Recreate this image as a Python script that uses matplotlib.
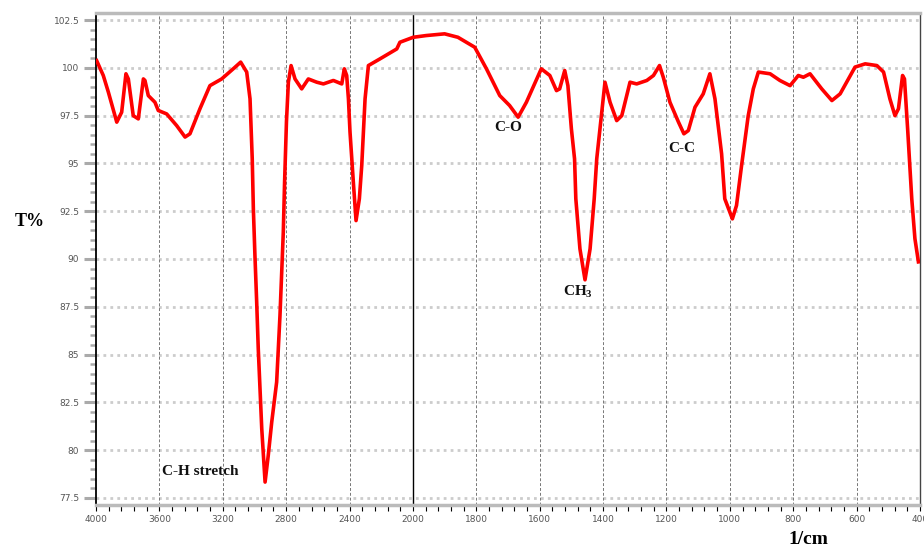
import numpy as np
import matplotlib
matplotlib.use("Agg")
import matplotlib.pyplot as plt

# FTIR spectrum, values
wn = [3996, 3954, 3922, 3869, 3838, 3811, 3796, 3765, 3733, 3701, 3691, 3670,
      3628, 3607, 3554, 3491, 3438, 3407, 3344, 3281, 3207, 3134, 3087, 3049,
      3028, 3014, 3007, 2997, 2986, 2976, 2965, 2954, 2933, 2913, 2891, 2860,
      2839, 2818, 2810, 2798, 2786, 2769, 2744, 2702, 2660, 2607, 2565, 2502,
      2449, 2433, 2418, 2407, 2397, 2376, 2359, 2338, 2323, 2302, 2281, 2208,
      2102, 2082, 1999, 1958, 1900, 1858, 1805, 1768, 1726, 1695, 1668, 1642,
      1595, 1568, 1547, 1537, 1521, 1511, 1500, 1490, 1486, 1473, 1457, 1441,
      1428, 1420, 1394, 1378, 1357, 1341, 1315, 1294, 1262, 1241, 1222, 1210,
      1189, 1162, 1145, 1131, 1110, 1084, 1063, 1047, 1026, 1016, 992, 979,
      963, 942, 926, 910, 873, 842, 810, 784, 768, 747, 710, 678, 652, 605,
      573, 536, 515, 495, 479, 468, 455, 449, 439, 426, 416, 405]
tr = [100.38, 99.6, 98.73, 97.16, 97.68, 99.69, 99.42, 97.5, 97.33, 99.42, 99.34, 98.55,
      98.2, 97.77, 97.59, 96.98, 96.38, 96.55, 97.86, 99.07, 99.42, 99.95, 100.3, 99.78,
      98.38, 95.24, 92.63, 90.18, 87.75, 85.3, 83.2, 81.12, 78.33, 79.72, 81.47, 83.56,
      87.04, 91.41, 94.0, 97.2, 99.25, 100.12, 99.42, 98.9, 99.42, 99.25, 99.16, 99.34,
      99.16, 99.95, 99.6, 98.38, 96.64, 94.02, 92.01, 93.15, 94.89, 98.38, 100.12, 100.47,
      100.99, 101.34, 101.6, 101.69, 101.78, 101.6, 101.08, 99.95, 98.55, 98.03, 97.42, 98.2,
      99.95, 99.6, 98.81, 98.9, 99.86, 99.07, 96.81, 95.24, 93.15, 90.53, 88.91, 90.53,
      93.15, 95.24, 99.25, 98.2, 97.24, 97.5, 99.25, 99.16, 99.34, 99.6, 100.12, 99.51,
      98.2, 97.16, 96.55, 96.72, 97.94, 98.64, 99.69, 98.38, 95.5, 93.15, 92.1, 92.8,
      94.89, 97.5, 98.9, 99.78, 99.69, 99.34, 99.07, 99.6, 99.51, 99.69, 98.9, 98.29, 98.64, 100.04,
      100.21, 100.12, 99.78, 98.38, 97.5, 97.86, 99.6, 99.42, 96.8, 93.15, 91.06, 89.85]

xticks = [4000, 3600, 3200, 2800, 2400, 2000, 1800, 1600, 1400, 1200, 1000, 800, 600, 400]
yticks = [77.5, 80, 82.5, 85, 87.5, 90, 92.5, 95, 97.5, 100, 102.5]
ylabels = ["77.5", "80", "82.5", "85", "87.5", "90", "92.5", "95", "97.5", "100", "102.5"]

labels = ["C-H stretch", "C-O", "CH$_3$", "C-C"]
label_x = [3344, 1700, 1479, 1151]
label_y = [78.9, 96.9, 88.3, 95.8]


# scale is halved above 2000 1/cm
def fwd(x):
    x = np.asarray(x, dtype=float)
    return np.where(x > 2000, 2000 + (x - 2000) / 2, x)


def inv(t):
    t = np.asarray(t, dtype=float)
    return np.where(t > 2000, 2000 + 2 * (t - 2000), t)


plt.rcParams['mathtext.fontset'] = 'custom'
plt.rcParams['mathtext.rm'] = 'Liberation Serif:bold'
plt.rcParams['mathtext.it'] = 'Liberation Serif:bold'

fig = plt.figure(figsize=(9.24, 5.54), dpi=100)
ax = fig.add_axes([96 / 924, 49 / 554, 824 / 924, 492 / 554])
ax.set_xscale('function', functions=(fwd, inv))

ax.plot(wn, tr, color='#ff0000', lw=2.6, zorder=5)

ax.set_xlim(4000, 400)
ax.set_ylim(77.13, 102.87)

# grid
for y in yticks:
    ax.axhline(y, color='#cccccc', lw=2, ls=(0, (1, 1.5)), zorder=1)
for x in xticks[1:-1]:
    if x == 2000:
        ax.axvline(x, color='black', lw=1, zorder=2)
    else:
        ax.axvline(x, color='#777777', lw=0.7, ls=(0, (3, 2)), zorder=2)

ax.set_xticks(xticks)
ax.set_xticklabels([str(x) for x in xticks])
minor_x = list(np.arange(4000, 2000, -80)) + list(np.arange(2000, 400, -40))
ax.set_xticks(minor_x, minor=True)
ax.set_yticks(yticks)
ax.set_yticklabels(ylabels)
ax.set_yticks(np.arange(77.5, 102.6, 0.5), minor=True)

ax.tick_params(axis='x', which='both', direction='out', length=4, width=0.8,
               color='black', labelsize=6.5, labelcolor='#555555', pad=3)
ax.tick_params(axis='y', which='major', direction='out', length=9, width=2.2,
               color='#aaaaaa', labelsize=6.5, labelcolor='#555555', pad=3)
ax.tick_params(axis='y', which='minor', direction='out', length=4, width=1.8,
               color='#aaaaaa')

ax.spines['left'].set_color('black')
ax.spines['left'].set_linewidth(1.3)
ax.spines['bottom'].set_color('#bbbbbb')
ax.spines['bottom'].set_linewidth(2.5)
ax.spines['top'].set_color('#bbbbbb')
ax.spines['top'].set_linewidth(2.5)
ax.spines['right'].set_color('#444444')
ax.spines['right'].set_linewidth(1)

for lab, x, y in zip(labels, label_x, label_y):
    ax.text(x, y, lab, ha='center', va='center', fontsize=11, fontweight='bold',
            family='Liberation Serif', color='#111111', zorder=6)

fig.text(30 / 924, 1 - 222 / 554, 'T%', ha='center', va='center', fontsize=13,
         fontweight='bold', family='Liberation Serif')
fig.text(808 / 924, 1 - 540 / 554, '1/cm', ha='center', va='center', fontsize=14,
         fontweight='bold', family='Liberation Serif')

fig.savefig('out.png', dpi=100)
